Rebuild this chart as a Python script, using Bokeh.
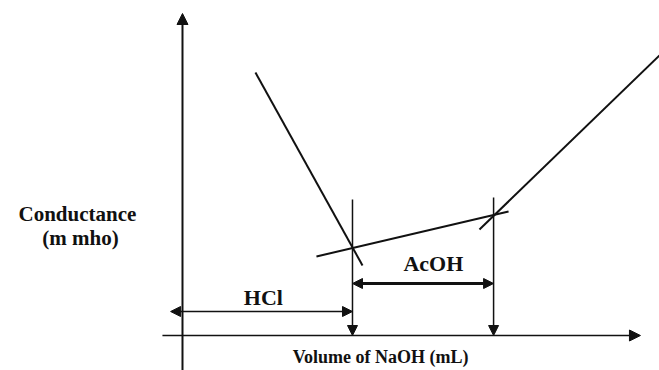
from bokeh.plotting import figure
from bokeh.models import Range1d, Arrow, NormalHead
from bokeh.core.properties import value
from bokeh.embed import file_html
from bokeh.resources import INLINE

# ---- data (volume in mL, conductance in arbitrary units) ----
hcl_vol = [4.29, 10.59]
hcl_cond = [13.15, 3.5]
acoh_vol = [7.88, 19.18]
acoh_cond = [3.95, 6.2]
naoh_vol = [17.47, 28.06]
naoh_cond = [5.3, 14.0]
eq_hcl = 10.0
eq_acoh = 18.3
eq_top = [6.8, 6.9]
labels = ["HCl", "AcOH"]
xlabel = "Volume of NaOH (mL)"
ylabel = ["Conductance", "(m mho)"]

FONT = value("Liberation Serif")
INK = "#111111"

p = figure(width=659, height=370, output_backend="svg", toolbar_location=None,
           x_range=Range1d(-10.706, 28.06), y_range=Range1d(-1.75, 16.75),
           min_border=0, outline_line_color=None)
p.xaxis.visible = False
p.yaxis.visible = False
p.grid.visible = False

# titration curve segments
p.line(hcl_vol, hcl_cond, line_color=INK, line_width=2)
p.line(acoh_vol, acoh_cond, line_color=INK, line_width=2)
p.line(naoh_vol, naoh_cond, line_color=INK, line_width=2)

# axes drawn as arrows
p.add_layout(Arrow(x_start=0, y_start=-1.75, x_end=0, y_end=16.1, line_width=2, line_color=INK,
                   start=None, end=NormalHead(size=11, fill_color=INK, line_color=INK)))
p.add_layout(Arrow(x_start=-1.18, y_start=0, x_end=26.94, y_end=0, line_width=1.5, line_color=INK,
                   start=None, end=NormalHead(size=11, fill_color=INK, line_color=INK)))

# equivalence point drop lines
for xv, top in zip([eq_hcl, eq_acoh], eq_top):
    p.add_layout(Arrow(x_start=xv, y_start=top, x_end=xv, y_end=0, line_width=1.5, line_color=INK,
                       start=None, end=NormalHead(size=10, fill_color=INK, line_color=INK)))

# range arrows
p.add_layout(Arrow(x_start=-0.7, y_start=1.2, x_end=eq_hcl, y_end=1.2, line_width=1.5, line_color=INK,
                   start=NormalHead(size=10, fill_color=INK, line_color=INK),
                   end=NormalHead(size=10, fill_color=INK, line_color=INK)))
p.add_layout(Arrow(x_start=eq_hcl, y_start=2.6, x_end=eq_acoh, y_end=2.6, line_width=3, line_color=INK,
                   start=NormalHead(size=10, fill_color=INK, line_color=INK),
                   end=NormalHead(size=10, fill_color=INK, line_color=INK)))

# labels
p.text(x=[4.76, 14.76], y=[1.9, 3.6], text=labels, text_font=FONT, text_font_style="bold",
       text_font_size="22px", text_align="center", text_baseline="middle", text_color=INK)
p.text(x=[11.65], y=[-1.05], text=[xlabel], text_font=FONT, text_font_style="bold",
       text_font_size="18px", text_align="center", text_baseline="middle", text_color=INK)
p.text(x=[-6.18, -6.0], y=[6.1, 4.9], text=ylabel, text_font=FONT, text_font_style="bold",
       text_font_size="21px", text_align="center", text_baseline="middle", text_color=INK)

open("out.html", "w").write(file_html(p, INLINE))
